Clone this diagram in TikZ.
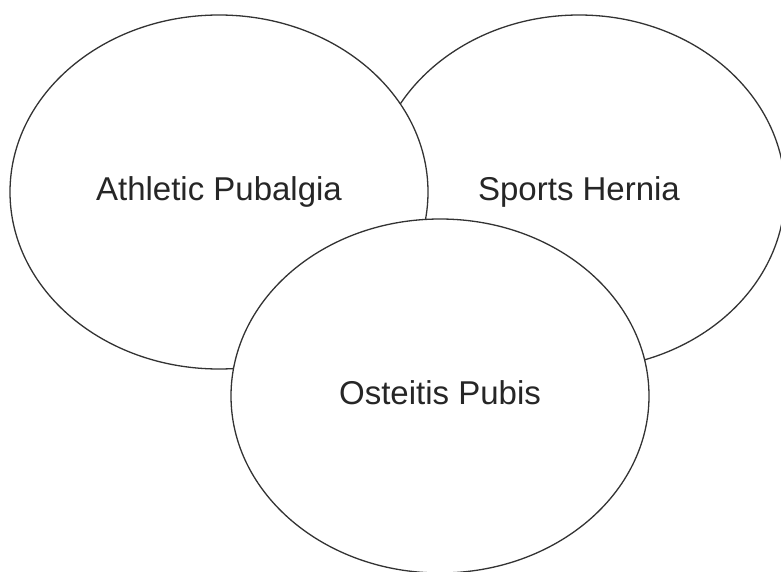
\documentclass[tikz,border=0pt]{standalone}
\usepackage{fontspec}
\setmainfont{Liberation Sans}
\usetikzlibrary{shapes.geometric}

\begin{document}
\begin{tikzpicture}
  [x=1pt, y=-1pt,
   every node/.style={ellipse, draw=black!80, line width=1.3pt, fill=white,
     inner sep=0pt, minimum width=418pt, minimum height=354pt,
     text depth=7pt, font=\fontsize{33}{40}\selectfont, text=black!85},
%   right one first, the other two lie over it
  ]
  \useasboundingbox (0,0) rectangle (781,572);
  \clip (0,0) rectangle (781,572);
  \node[minimum width=412pt] (hernia) at (579,192) {Sports Hernia};
  \node (pubalgia) at (219,192) {Athletic Pubalgia};
  \node (osteitis) at (440,396) {Osteitis Pubis};
\end{tikzpicture}
\end{document}
